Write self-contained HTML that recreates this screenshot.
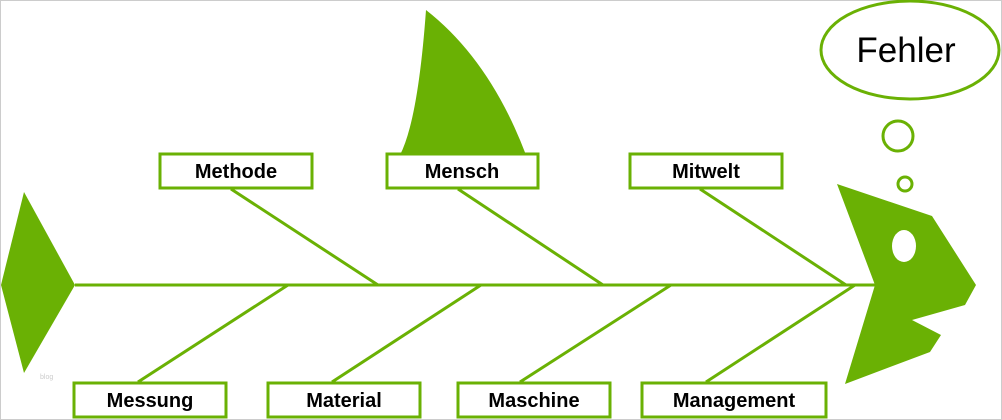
<!DOCTYPE html>
<html><head><style>
html,body{margin:0;padding:0;background:#fff;}
svg{display:block;}
text{font-family:"Liberation Sans",sans-serif;font-size:20px;font-weight:bold;fill:#000;}
</style></head><body>
<svg width="1002" height="420" viewBox="0 0 1002 420" xmlns="http://www.w3.org/2000/svg">
<rect x="0.5" y="0.5" width="1001" height="419" fill="#fff" stroke="#ccc"/>
<g fill="#6ab104" stroke="none">
<polygon points="1,285 24,192 75,285 24,373"/>
<path d="M426,10 Q418,120 400,155 L526,155 Q490,60 426,10 Z"/>
<polygon points="837,184 932,216 976,285 965,305 912,320 941,335 930,352 845,384 875,285"/>
</g>
<ellipse cx="904" cy="246" rx="12" ry="16" fill="#fff"/>
<g stroke="#6ab104" stroke-width="3" fill="none">
<line x1="75" y1="285" x2="875" y2="285"/>
<line x1="231" y1="189" x2="378" y2="285"/>
<line x1="458" y1="189" x2="603" y2="285"/>
<line x1="700" y1="189" x2="846" y2="285"/>
<line x1="288" y1="285" x2="138" y2="382"/>
<line x1="481" y1="285" x2="332" y2="382"/>
<line x1="671" y1="285" x2="520" y2="382"/>
<line x1="855" y1="285" x2="706" y2="382"/>
<ellipse cx="910" cy="50" rx="89" ry="49"/>
<circle cx="898" cy="136" r="15"/>
<circle cx="905" cy="184" r="7"/>
</g>
<g fill="#fff" stroke="#6ab104" stroke-width="3">
<rect x="160" y="154" width="152" height="34"/>
<rect x="387" y="154" width="151" height="34"/>
<rect x="630" y="154" width="152" height="34"/>
<rect x="74" y="383" width="152" height="34"/>
<rect x="268" y="383" width="152" height="34"/>
<rect x="458" y="383" width="152" height="34"/>
<rect x="642" y="383" width="184" height="34"/>
</g>
<g text-anchor="middle">
<text x="236" y="178">Methode</text>
<text x="462" y="178">Mensch</text>
<text x="706" y="178">Mitwelt</text>
<text x="150" y="407">Messung</text>
<text x="344" y="407">Material</text>
<text x="534" y="407">Maschine</text>
<text x="734" y="407">Management</text>
<text x="906" y="62" style="font-size:35px;font-weight:normal">Fehler</text>
</g>
<text x="40" y="379" style="font-size:7px;fill:#ccc;font-weight:normal">blog</text>
</svg>
</body></html>
